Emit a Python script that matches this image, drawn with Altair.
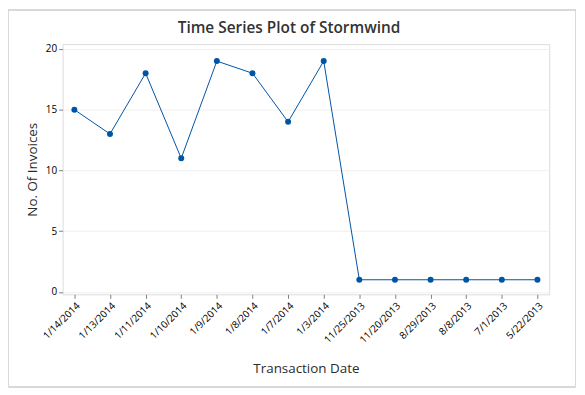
import altair as alt
import pandas as pd

dates = ["1/14/2014", "1/13/2014", "1/11/2014", "1/10/2014", "1/9/2014", "1/8/2014",
         "1/7/2014", "1/3/2014", "11/25/2013", "11/20/2013", "8/29/2013", "8/8/2013",
         "7/1/2013", "5/22/2013"]
invoices = [15, 13, 18, 11, 19, 18, 14, 19, 1, 1, 1, 1, 1, 1]
title_text = ["Time Series Plot of Stormwind"]

df = pd.DataFrame({"date": dates, "n": invoices})
tdf = pd.DataFrame({"t": title_text})

FONT = "Open Sans"
BLUE = "#0054a6"

x = alt.X("date:N", sort=dates, title="Transaction Date",
          scale=alt.Scale(type="point", padding=0.33),
          axis=alt.Axis(labelAngle=-45, labelFontSize=10, labelColor="#000",
                        labelFont=FONT, titleFont=FONT, titleFontSize=13.5,
                        titleFontWeight="normal", titleColor="#2b2b2b",
                        titlePadding=17, tickColor="#808080", domain=False,
                        gridColor="#efefef", tickSize=4, labelPadding=2))
y = alt.Y("n:Q", title="No. Of Invoices",
          scale=alt.Scale(domain=[-0.2, 20.4], nice=False, zero=False),
          axis=alt.Axis(values=[0, 5, 10, 15, 20], labelFontSize=10, labelColor="#000",
                        labelFont=FONT, titleFont=FONT, titleFontSize=13.5,
                        titleFontWeight="normal", titleColor="#2b2b2b",
                        titlePadding=6, tickColor="#808080", domain=False,
                        gridColor="#efefef", tickSize=4))

border = alt.Chart(df).mark_rect(fill=None, stroke="#d9d9d9", strokeWidth=1).encode(
    x=alt.value(-54.5), x2=alt.value(516.5), y=alt.value(-34.5), y2=alt.value(345)
)

title = alt.Chart(tdf).mark_text(font=FONT, fontSize=15.5, fontWeight=600, color="#333",
                                 align="center", baseline="alphabetic").encode(
    text="t:N", x=alt.value(228), y=alt.value(-11.5)
)

line = alt.Chart(df).mark_line(color=BLUE, strokeWidth=1).encode(x=x, y=y)
pts = alt.Chart(df).mark_point(filled=True, color=BLUE, size=36, opacity=1).encode(x=x, y=y)

chart = alt.layer(border, line, pts, title).properties(
    width=490, height=252,
    autosize=alt.AutoSizeParams(type="none"),
    padding={"left": 55, "top": 35, "right": 28, "bottom": 95},
).configure_view(stroke="#808080", strokeWidth=1.2).configure(background="white")

chart.save("out.html", embed_options={"renderer": "svg", "actions": False})
